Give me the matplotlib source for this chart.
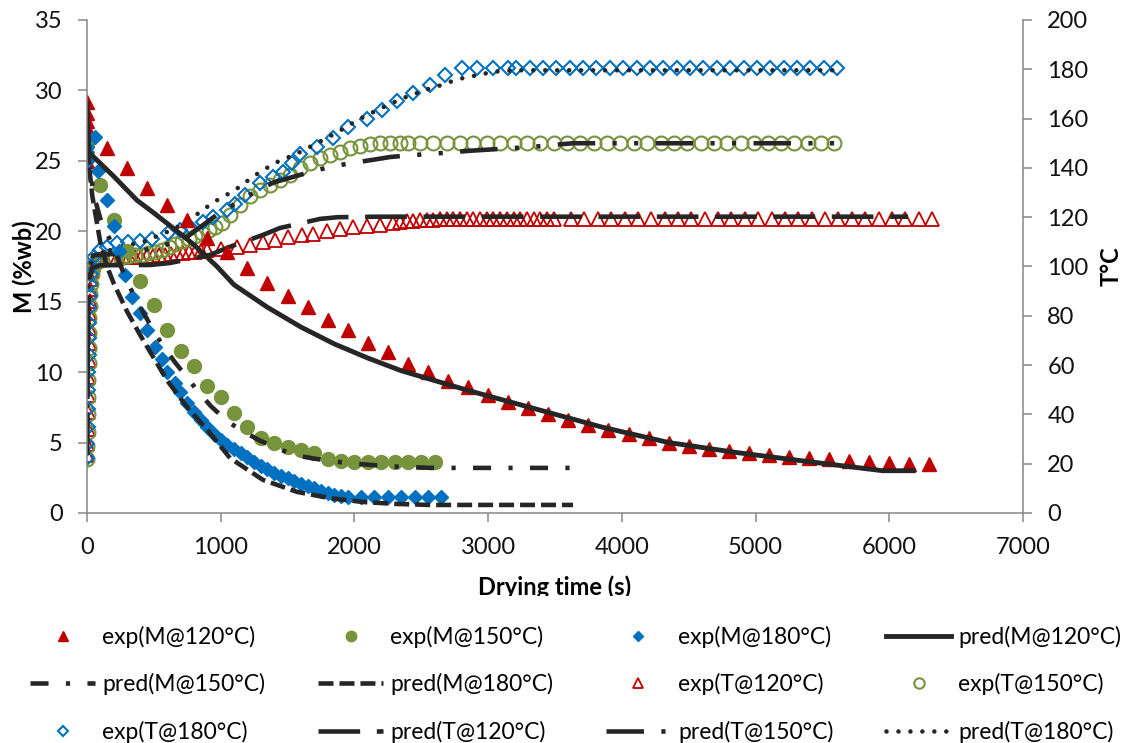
import matplotlib
matplotlib.use('Agg')
import matplotlib.pyplot as plt
from matplotlib.transforms import Bbox, TransformedBbox

plt.rcParams['font.family'] = ['Lato', 'DejaVu Sans']
plt.rcParams['lines.scale_dashes'] = False

# ---------------- experimental moisture content, M (%wb) ----------------
t_m120 = [0, 0, 0, 0, 0, 150, 300, 450, 600, 750, 900, 1050, 1200, 1350, 1500,
          1650, 1800, 1950, 2100, 2250, 2400, 2550, 2700, 2850, 3000, 3150, 3300,
          3450, 3600, 3750, 3900, 4050, 4200, 4350, 4500, 4650, 4800, 4950, 5100,
          5250, 5400, 5550, 5700, 5850, 6000, 6150, 6300]
m120 = [25.0, 27.3, 27.8, 28.4, 29.2, 25.9, 24.5, 23.1, 21.9, 20.8, 19.5, 18.5, 17.4,
        16.3, 15.4, 14.6, 13.7, 13.0, 12.1, 11.4, 10.6, 10.0, 9.4, 8.95, 8.4, 7.9,
        7.45, 7.0, 6.6, 6.25, 5.9, 5.6, 5.3, 5.0, 4.75, 4.55, 4.4, 4.25, 4.1, 4.0,
        3.9, 3.8, 3.7, 3.6, 3.55, 3.5, 3.45]

t_m150 = [0, 0, 100, 200, 300, 400, 500, 600, 700, 800, 900, 1000, 1100, 1200, 1300,
          1400, 1500, 1600, 1700, 1800, 1900, 2000, 2100, 2200, 2300, 2400, 2500, 2600]
m150 = [25.3, 26.2, 23.3, 20.8, 18.6, 16.5, 14.8, 13.0, 11.5, 10.4, 9.0, 8.2, 7.1,
        6.1, 5.3, 5.0, 4.7, 4.5, 4.25, 3.8, 3.7, 3.6, 3.6, 3.6, 3.6, 3.6, 3.6, 3.6]

t_m180 = [0, 0, 0, 60, 84, 150, 200, 242, 284, 337, 396, 449, 509, 561, 598, 658,
          696, 748, 800, 850, 900, 950, 1000, 1050, 1100, 1150, 1200, 1250, 1300,
          1350, 1400, 1450, 1500, 1550, 1600, 1650, 1700, 1750, 1800, 1850, 1900,
          1950, 2050, 2150, 2250, 2350, 2450, 2550, 2650]
m180 = [25.0, 25.6, 26.0, 26.7, 24.3, 22.2, 20.4, 18.6, 16.9, 15.3, 14.2, 13.0, 11.8,
        10.9, 10.0, 9.2, 8.6, 7.8, 7.2, 6.6, 6.1, 5.6, 5.2, 4.85, 4.55, 4.25, 3.95,
        3.65, 3.35, 3.1, 2.85, 2.65, 2.45, 2.25, 2.05, 1.9, 1.75, 1.55, 1.4, 1.3,
        1.2, 1.15, 1.15, 1.15, 1.15, 1.15, 1.15, 1.15, 1.15]

# ---------------- predicted moisture content ----------------
tp_m120 = [0, 15, 200, 374, 500, 621, 793, 972, 1100, 1350, 1600, 1850, 2100, 2350,
           2850, 3350, 3850, 4350, 4850, 5350, 5950, 6180]
pm120 = [29.0, 25.6, 23.9, 22.2, 21.3, 20.4, 19.1, 17.5, 16.2, 14.6, 13.2, 12.0, 11.0,
         10.1, 8.7, 7.4, 6.1, 5.0, 4.3, 3.7, 3.0, 3.0]

tp_m150 = [0, 50, 100, 200, 300, 400, 500, 560, 650, 750, 825, 925, 1050, 1150, 1280,
           1420, 1555, 1705, 1855, 1990, 2140, 2290, 2430, 2573, 3612]
pm150 = [26.0, 22.6, 20.9, 18.8, 16.4, 14.6, 12.9, 12.0, 10.8, 9.6, 8.7, 7.6, 6.5,
         5.9, 5.2, 4.6, 4.1, 3.85, 3.65, 3.5, 3.4, 3.3, 3.25, 3.2, 3.2]

tp_m180 = [0, 40, 100, 150, 200, 300, 400, 500, 600, 750, 900, 1070, 1316, 1570, 1817,
           2064, 2318, 2565, 3635]
pm180 = [26.0, 22.5, 19.2, 17.5, 16.3, 14.3, 12.6, 11.0, 9.4, 7.5, 5.9, 3.9, 2.35,
         1.5, 1.05, 0.78, 0.64, 0.57, 0.57]

# ---------------- experimental product temperature (°C) ----------------
t_t120 = [0, 2, 4, 6, 8, 10, 12, 14, 16, 18, 20, 24, 28, 35, 45,
          90, 135, 180, 225, 270, 315, 360, 405, 450, 495, 540, 585, 630, 675, 720,
          765, 810, 855, 900,
          1000, 1122, 1219, 1316, 1406, 1503, 1608, 1690, 1795, 1892, 1990, 2094,
          2191, 2290,
          2340, 2390, 2440, 2490, 2540, 2590, 2640, 2690, 2740, 2790, 2840, 2890,
          2940, 2990, 3040, 3090, 3140, 3190, 3240, 3290, 3340, 3390, 3440, 3490,
          3620, 3720, 3820, 3920, 4020, 4120, 4220, 4320, 4420, 4520, 4620, 4720,
          4820, 4920, 5020, 5120, 5220, 5320, 5420, 5520, 5620, 5720, 5820, 5920,
          6020, 6120, 6220, 6320]
T120 = [23.5, 28, 34, 41, 48, 55, 62, 69, 75, 81, 86, 91, 95, 98, 100.5,
        102.5, 103.0, 103.3, 103.5, 103.7, 103.8, 103.9, 104.0, 104.1, 104.3, 104.5,
        104.7, 105.0, 105.3, 105.6, 105.8, 106.0, 106.3, 106.6,
        107.0, 107.9, 108.7, 109.9, 110.8, 112.0, 112.8, 113.3, 114.2, 115.2, 115.9,
        116.5, 117.0, 117.6,
        118.0, 118.3, 118.5, 118.7, 118.9, 119.0, 119.1, 119.2, 119.3, 119.3, 119.3,
        119.3, 119.3, 119.3, 119.3, 119.3, 119.3, 119.3, 119.3, 119.3, 119.3, 119.3,
        119.3, 119.3,
        119.3, 119.3, 119.3, 119.3, 119.3, 119.3, 119.3, 119.3, 119.3, 119.3, 119.3,
        119.3, 119.3, 119.3, 119.3, 119.3, 119.3, 119.3, 119.3, 119.3, 119.3, 119.3,
        119.3, 119.3, 119.3, 119.3, 119.3, 119.3]

t_t150 = [0, 2, 4, 6, 8, 10, 12, 14, 16, 18, 20, 24, 28, 35, 45,
          60, 110, 160, 210, 260, 310, 360, 410, 460, 510, 560, 610, 660, 710, 760,
          810, 860, 910, 960, 1010,
          1070, 1144, 1219, 1294, 1369, 1443, 1518, 1593, 1668, 1743, 1817, 1892,
          1967, 2042, 2117, 2191, 2266, 2340, 2400,
          2490, 2590, 2690, 2790, 2890, 2990, 3090, 3190, 3290, 3390, 3490, 3590,
          3690, 3790, 3890, 3990, 4090, 4190, 4290, 4390, 4490, 4590, 4690, 4790,
          4890, 4990, 5090, 5190, 5290, 5390, 5490, 5590]
T150 = [22, 27, 33, 40, 47, 54, 61, 67, 73, 79, 84, 89, 93, 97, 100,
        101.2, 102.5, 103.1, 103.6, 104.0, 104.3, 104.5, 104.8, 105.3, 106.0, 106.8,
        107.8, 109.0, 110.2, 111.3, 112.5, 113.6, 114.8, 116.2, 117.8,
        121.0, 125.0, 128.5, 131.0, 133.0, 135.0, 137.0, 140.0, 142.0, 144.0, 145.3,
        146.6, 148.0, 148.8, 149.5, 150, 150, 150, 150,
        150, 150, 150, 150, 150, 150, 150, 150, 150, 150, 150, 150, 150, 150, 150,
        150, 150, 150, 150, 150, 150, 150, 150, 150, 150, 150, 150, 150, 150, 150,
        150, 150]

t_t180 = [0, 2, 4, 6, 8, 10, 12, 14, 16, 18, 20, 24, 28, 35, 50,
          100, 150, 224, 306, 396, 486, 606, 696, 770, 868, 942, 1047, 1107, 1182,
          1294, 1391, 1466, 1530, 1593, 1720, 1840, 1952, 2094, 2206, 2320, 2438,
          2565, 2678, 2805, 2917, 3037, 3149, 3210,
          3310, 3410, 3510, 3610, 3710, 3810, 3910, 4010, 4110, 4210, 4310, 4410,
          4510, 4610, 4710, 4810, 4910, 5010, 5110, 5210, 5310, 5410, 5510, 5610]
T180 = [22.5, 28, 35, 42, 50, 57, 64, 71, 77, 83, 88, 93, 97, 100, 104,
        106.5, 107.9, 109.5, 110.0, 110.2, 111.2, 113.6, 114.8, 116.0, 118.0, 120.0,
        123.0, 125.5, 129.0, 134.0, 136.3, 138.5, 142.0, 145.5, 148.5, 152.0, 156.6,
        160.0, 163.5, 167.0, 170.4, 173.6, 177.7, 180.5, 180.5, 180.5, 180.5, 180.5,
        180.5, 180.5, 180.5, 180.5, 180.5, 180.5, 180.5, 180.5, 180.5, 180.5, 180.5,
        180.5, 180.5, 180.5, 180.5, 180.5, 180.5, 180.5, 180.5, 180.5, 180.5, 180.5,
        180.5, 180.5]

# ---------------- predicted product temperature ----------------
tp_t120 = [0, 5, 10, 20, 40, 100, 471, 620, 920, 1070, 1316, 1443, 1743, 1877, 2177, 6140]
pt120 = [24, 58, 84, 95, 99.5, 100.5, 100.6, 101.4, 104.7, 108.0, 112.8, 115.6, 119.3,
         120.0, 120.2, 120.2]

tp_t150 = [0, 5, 10, 20, 45, 322, 550, 748, 972, 1200, 1391, 1668, 1817, 1982, 2130,
           2266, 2430, 2565, 2730, 2880, 3180, 3330, 3485, 3635, 5600]
pt150 = [24, 62, 88, 99, 104.5, 105.5, 108.0, 112.0, 121.0, 128.5, 134.0, 138.3, 140.4,
         142.0, 143.2, 144.4, 145.2, 145.6, 146.4, 147.0, 148.0, 148.5, 149.3, 150.0, 150.0]

tp_t180 = [0, 5, 10, 20, 40, 100, 262, 419, 583, 696, 793, 945, 1107, 1257, 1406, 1578,
           1720, 1877, 2027, 2191, 2350, 2528, 2618, 2775, 2955, 3037, 3200, 5655]
pt180 = [24, 60, 88, 99, 103, 105.5, 108, 110, 113.6, 116.5, 120, 126, 131, 137, 142,
         146, 150, 154.6, 159.5, 164, 168, 171.6, 173, 176, 178, 179, 179.6, 179.6]

red, green, blue = '#C00000', '#77933C', '#0070C0'
ink = '#262626'
axis_grey = '#868686'

fig = plt.figure(figsize=(11.28, 7.43), dpi=100)
ax = fig.add_axes([0.0771, 0.3096, 0.8298, 0.6635])
ax2 = ax.twinx()
ax.set_zorder(ax2.get_zorder() + 1)
ax.patch.set_visible(False)

# temperatures on the right axis
h_et120, = ax2.plot(t_t120, T120, ls='none', marker='^', ms=9.5, mfc='none', mec=red,
                    mew=1.3, label='exp(T@120°C)')
h_et150, = ax2.plot(t_t150, T150, ls='none', marker='o', ms=10, mfc='none', mec=green,
                    mew=1.5, label='exp(T@150°C)')
h_et180, = ax2.plot(t_t180, T180, ls='none', marker='D', ms=7, mfc='none', mec=blue,
                    mew=1.5, label='exp(T@180°C)')
h_pt120, = ax2.plot(tp_t120, pt120, color=ink, lw=3.3, dashes=(30, 12),
                    label='pred(T@120°C)')
h_pt150, = ax2.plot(tp_t150, pt150, color=ink, lw=3.3, dashes=(27, 12.5, 3, 12.5, 3, 12.5),
                    label='pred(T@150°C)')
h_pt180, = ax2.plot(tp_t180, pt180, color=ink, lw=3.3, dashes=(0.01, 8.6),
                    dash_capstyle='round', label='pred(T@180°C)')

# moisture on the left axis
h_em120, = ax.plot(t_m120, m120, ls='none', marker='^', ms=9.5, color=red,
                   label='exp(M@120°C)')
h_em150, = ax.plot(t_m150, m150, ls='none', marker='o', ms=10, color=green,
                   label='exp(M@150°C)')
h_em180, = ax.plot(t_m180, m180, ls='none', marker='D', ms=7, color=blue,
                   label='exp(M@180°C)')
h_pm120, = ax.plot(tp_m120, pm120, color=ink, lw=3.5, label='pred(M@120°C)')
h_pm150, = ax.plot(tp_m150, pm150, color=ink, lw=3.3, dashes=(13, 12.5, 3, 12.5),
                   label='pred(M@150°C)')
h_pm180, = ax.plot(tp_m180, pm180, color=ink, lw=3.3, dashes=(10.8, 4.3),
                   label='pred(M@180°C)')

ax.set_xlim(0, 7000)
ax.set_ylim(0, 35)
ax2.set_ylim(0, 200)
ax.set_xticks(range(0, 7001, 1000))
ax.set_yticks(range(0, 36, 5))
ax2.set_yticks(range(0, 201, 20))

for a in (ax, ax2):
    a.spines['top'].set_visible(False)
    for s in a.spines.values():
        s.set_color(axis_grey)
        s.set_linewidth(1.1)
    a.tick_params(direction='out', length=6.5, width=1.1, color=axis_grey,
                  labelsize=17, labelcolor='#111111', pad=11)
ax.spines['right'].set_visible(False)
ax2.spines['left'].set_visible(False)
ax2.spines['bottom'].set_visible(False)
ax.tick_params(axis='x', pad=10.5)

ax.set_ylabel('M (%wb)', fontsize=17, fontweight='bold')
ax.yaxis.set_label_coords(-0.0673, 0.5)
ax.yaxis.label.set_va('center')
ax2.set_ylabel('T°C', fontsize=17, fontweight='bold', rotation=90)
ax2.yaxis.set_label_coords(1.094, 0.5)
ax2.yaxis.label.set_va('center')

# x label sits right on the legend strip, its lower part is cut away
ax.set_xlabel('Drying time (s)', fontsize=17, fontweight='bold')
ax.xaxis.set_label_coords(0.5, -0.1663)
ax.xaxis.label.set_va('baseline')
ax.xaxis.label.set_clip_box(TransformedBbox(Bbox([[0, 1 - 596 / 743], [1, 1]]),
                                            fig.transFigure))
ax.xaxis.label.set_clip_on(True)

# legend filled row by row (matplotlib fills columns first)
handles = [h_em120, h_pm150, h_et180,
           h_em150, h_pm180, h_pt120,
           h_em180, h_et120, h_pt150,
           h_pm120, h_et150, h_pt180]
fig.legend(handles=handles, loc='upper left', bbox_to_anchor=(30 / 1128, 1 - 626 / 743),
           ncol=4, frameon=False, fontsize=16.5, handlelength=2.85, handletextpad=0.3,
           columnspacing=2.3, labelspacing=1.1, borderpad=0, borderaxespad=0,
           markerscale=0.75)

fig.savefig('out.png', dpi=100)
